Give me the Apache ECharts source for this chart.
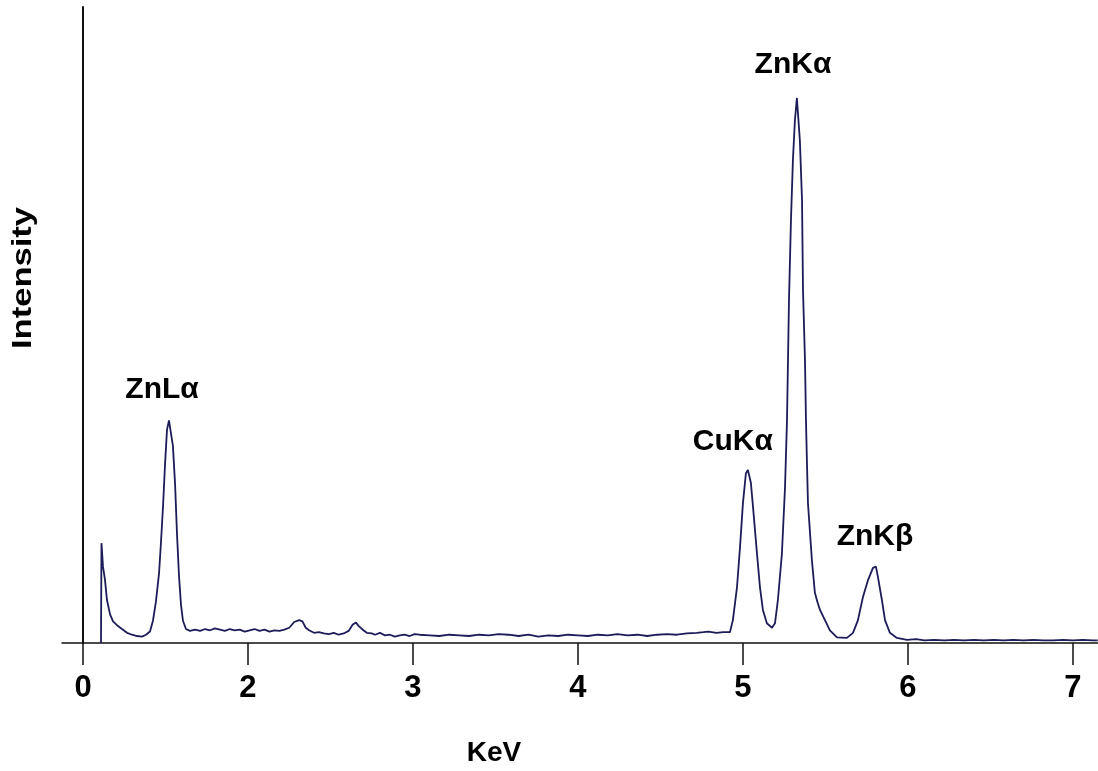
<!DOCTYPE html>
<html>
<head>
<meta charset="utf-8">
<script src="https://cdn.jsdelivr.net/npm/echarts@6/dist/echarts.min.js"></script>
<style>
  html, body { margin: 0; padding: 0; background: #fff; }
  #chart { width: 1098px; height: 771px; }
</style>
</head>
<body>
<div id="chart"></div>
<script>
// axis positions (uniform scale) and the labels printed under them
var tickPos = [1, 2, 3, 4, 5, 6, 7]
var tickLabels = ['0', '2', '3', '4', '5', '6', '7']

// spectrum
var energy = [
  1.109, 1.112, 1.121, 1.133, 1.145, 1.164, 1.182, 1.206, 1.236, 1.267, 1.297, 1.327, 1.358, 1.382, 1.406,
  1.424, 1.442, 1.461, 1.473, 1.485, 1.497, 1.509, 1.521, 1.533, 1.545, 1.558, 1.570, 1.582, 1.594, 1.606,
  1.624, 1.648, 1.68, 1.71, 1.74, 1.77, 1.80, 1.83, 1.86, 1.89, 1.92, 1.95, 1.98, 2.01, 2.04, 2.07, 2.10,
  2.13, 2.16, 2.19, 2.22, 2.25, 2.28, 2.31, 2.33, 2.35, 2.37, 2.40, 2.43, 2.46, 2.49, 2.52, 2.55, 2.58,
  2.61, 2.635, 2.655, 2.67, 2.70, 2.72, 2.75, 2.77, 2.80, 2.83, 2.86, 2.89, 2.92, 2.95, 2.98, 3.01, 3.04,
  3.10, 3.16, 3.22, 3.28, 3.34, 3.40, 3.46, 3.52, 3.58, 3.64, 3.70, 3.76, 3.82, 3.88, 3.94, 4.00, 4.06,
  4.12, 4.18, 4.24, 4.30, 4.36, 4.42, 4.48, 4.54, 4.60, 4.66, 4.72, 4.76, 4.79, 4.84, 4.88, 4.921, 4.939,
  4.964, 4.982, 5.000, 5.018, 5.030, 5.048, 5.061, 5.085, 5.103, 5.121, 5.145, 5.176, 5.194, 5.212, 5.236,
  5.255, 5.267, 5.279, 5.291, 5.303, 5.315, 5.327, 5.339, 5.345, 5.358, 5.364, 5.376, 5.382, 5.388, 5.394,
  5.418, 5.436, 5.452, 5.467, 5.497, 5.527, 5.570, 5.630, 5.667, 5.697, 5.727, 5.758, 5.788, 5.806, 5.818,
  5.842, 5.861, 5.891, 5.933, 5.994, 6.05, 6.10, 6.16, 6.22, 6.28, 6.34, 6.40, 6.46, 6.52, 6.58, 6.64,
  6.70, 6.76, 6.82, 6.88, 6.94, 7.00, 7.06, 7.12, 7.15
]
var counts = [
  0, 15.7, 12, 10, 6.8, 4.5, 3.4, 2.8, 2.2, 1.6, 1.3, 1.1, 1.0, 1.3, 1.8,
  3.5, 6.5, 11, 16, 21.5, 28, 33.5, 35, 35.3, 31, 25, 17, 10.5, 6, 3.5,
  2.2, 1.9, 2.1, 1.9, 2.2, 2.0, 2.3, 2.1, 1.9, 2.2, 2.0, 2.1, 1.8, 2.0, 2.2, 1.9, 2.1,
  1.8, 2.0, 1.9, 2.1, 2.4, 3.3, 3.6, 3.4, 2.4, 2.0, 1.6, 1.7, 1.5, 1.4, 1.6, 1.3, 1.5,
  1.9, 2.9, 3.2, 2.7, 2.0, 1.6, 1.5, 1.3, 1.6, 1.2, 1.3, 1.0, 1.2, 1.3, 1.1, 1.4, 1.3,
  1.2, 1.1, 1.3, 1.2, 1.1, 1.3, 1.2, 1.4, 1.3, 1.1, 1.3, 1.0, 1.2, 1.1, 1.3, 1.2, 1.1,
  1.3, 1.2, 1.4, 1.2, 1.3, 1.1, 1.3, 1.4, 1.3, 1.5, 1.6, 1.7, 1.8, 1.6, 1.7, 1.7, 3.6,
  8.8, 15, 22, 26.7, 27.2, 25.2, 21.4, 14.1, 8.8, 5.2, 3.1, 2.4, 3.1, 6.8, 14,
  24.5, 35, 53.9, 66.5, 76, 82.2, 85.7, 85.4, 79, 69.7, 55.5, 44.5, 35, 28.3, 22,
  13, 7.9, 6.4, 5.2, 3.6, 2.0, 0.9, 0.8, 1.6, 3.6, 7.2, 9.9, 11.8, 12, 10.4,
  6.8, 3.6, 1.6, 0.8, 0.5, 0.6, 0.4, 0.5, 0.4, 0.5, 0.4, 0.5, 0.4, 0.5, 0.4, 0.5,
  0.4, 0.5, 0.4, 0.4, 0.5, 0.4, 0.5, 0.4, 0.4
]

// peak labels
var peakNames = ['ZnLα', 'CuKα', 'ZnKα', 'ZnKβ']
var peakX = [1.479, 4.939, 5.303, 5.8]
var peakY = [39.9, 31.6, 90.9, 16.7]

var font = "'Liberation Sans', Arial, sans-serif"

var spectrum = []
for (let i = 0; i < energy.length; i++) {
  spectrum.push([energy[i], counts[i]])
}
var peaks = []
for (let i = 0; i < peakNames.length; i++) {
  peaks.push({ name: peakNames[i], value: [peakX[i], peakY[i]] })
}

var myChart = echarts.init(document.getElementById('chart'), null, { renderer: 'canvas' })
var option = {
  backgroundColor: '#fff',
  animation: false,
  grid: { left: 62, right: 0, top: 7, bottom: 128 },
  xAxis: {
    type: 'value',
    min: 0.8727,
    max: 7.152,
    axisLine: { show: true, lineStyle: { color: '#111', width: 1.5 } },
    axisTick: { show: true, length: 22, customValues: tickPos, lineStyle: { color: '#111', width: 1.5 } },
    axisLabel: {
      customValues: tickPos,
      margin: 30,
      fontSize: 31,
      fontWeight: 'bold',
      fontFamily: font,
      color: '#000',
      formatter: function (v) {
        let i = tickPos.indexOf(Math.round(v))
        return i >= 0 ? tickLabels[i] : ''
      }
    },
    splitLine: { show: false }
  },
  yAxis: {
    type: 'value',
    min: 0,
    max: 100,
    offset: -21,
    axisLine: { show: true, lineStyle: { color: '#111', width: 2 } },
    axisTick: { show: false },
    axisLabel: { show: false },
    splitLine: { show: false }
  },
  graphic: [
    {
      type: 'text', x: 24, y: 278, rotation: Math.PI / 2, scaleX: 1.28,
      style: { text: 'Intensity', fontSize: 27, fontWeight: 'bold', fontFamily: font, fill: '#000', align: 'center', verticalAlign: 'middle' }
    },
    {
      type: 'text', x: 494, y: 753,
      style: { text: 'KeV', fontSize: 28, fontWeight: 'bold', fontFamily: font, fill: '#000', align: 'center', verticalAlign: 'middle' }
    }
  ],
  series: [
    {
      type: 'line',
      data: spectrum,
      showSymbol: false,
      lineStyle: { color: '#1c1c58', width: 1.8 }
    },
    {
      type: 'scatter',
      data: peaks,
      symbolSize: 0,
      itemStyle: { color: 'transparent', opacity: 1 },
      label: {
        show: true,
        position: 'inside',
        formatter: '{b}',
        fontSize: 30,
        fontWeight: 'bold',
        fontFamily: font,
        color: '#000',
        opacity: 1
      }
    }
  ]
}
myChart.setOption(option)
</script>
</body>
</html>
